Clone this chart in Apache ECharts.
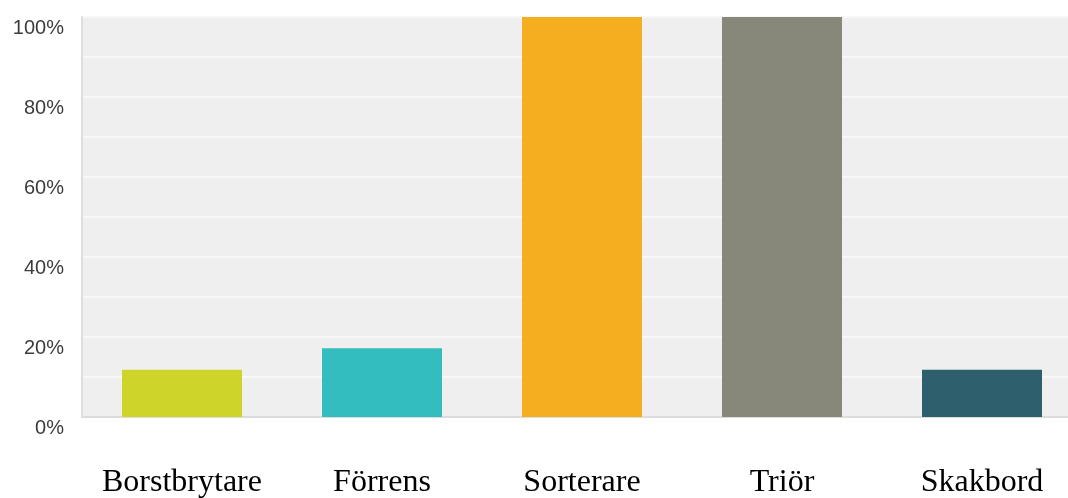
<!DOCTYPE html>
<html>
<head>
<meta charset="utf-8">
<script src="https://cdn.jsdelivr.net/npm/echarts@6/dist/echarts.min.js"></script>
<style>
  html, body { margin: 0; padding: 0; background: #ffffff; }
  #chart { width: 1068px; height: 498px; }
</style>
</head>
<body>
<div id="chart"></div>
<script>
// Machine types and the share of respondents using each (percent)
const categories = ['Borstbrytare', 'Förrens', 'Sorterare', 'Triör', 'Skakbord'];
const shares = [11.8, 17.2, 100, 100, 11.8];
const barColors = ['#cfd42b', '#33bdbf', '#f5ae1f', '#88887a', '#2e5f6d'];
// Labelled ticks on the percentage axis (gridlines fall every 10%)
const labelledTicks = [0, 20, 40, 60, 80, 100];

const chart = echarts.init(document.getElementById('chart'), null, { renderer: 'canvas' });

chart.setOption({
  animation: false,
  backgroundColor: '#ffffff',
  grid: {
    left: 82,
    top: 17,
    width: 1000,
    bottom: 81,
    containLabel: false,
    outerBoundsMode: 'none',
    show: true,
    backgroundColor: '#efefef',
    borderWidth: 0
  },
  xAxis: {
    type: 'category',
    data: categories,
    axisLine: { show: true, lineStyle: { color: '#dcdcdc', width: 2 } },
    axisTick: { show: false },
    splitLine: { show: false },
    axisLabel: {
      interval: 0,
      hideOverlap: false,
      margin: 50,
      fontFamily: '"Liberation Serif", "Times New Roman", serif',
      fontSize: 32,
      color: '#000000'
    }
  },
  yAxis: {
    type: 'value',
    min: 0,
    max: 100,
    interval: 10,
    axisLine: { show: true, lineStyle: { color: '#dedede', width: 2 } },
    axisTick: { show: false },
    splitLine: { show: true, lineStyle: { color: '#f8f8f8', width: 2 } },
    axisLabel: {
      margin: 18,
      fontFamily: '"Liberation Sans", Arial, sans-serif',
      fontSize: 20,
      color: '#3c3c3c',
      verticalAlign: 'top',
      lineHeight: 22,
      formatter: function (v) {
        return labelledTicks.indexOf(v) >= 0 ? v + '%' : '';
      }
    }
  },
  series: [{
    type: 'bar',
    barWidth: '60%',
    data: shares.map(function (v, i) {
      return { value: v, itemStyle: { color: barColors[i] } };
    })
  }]
});
</script>
</body>
</html>
